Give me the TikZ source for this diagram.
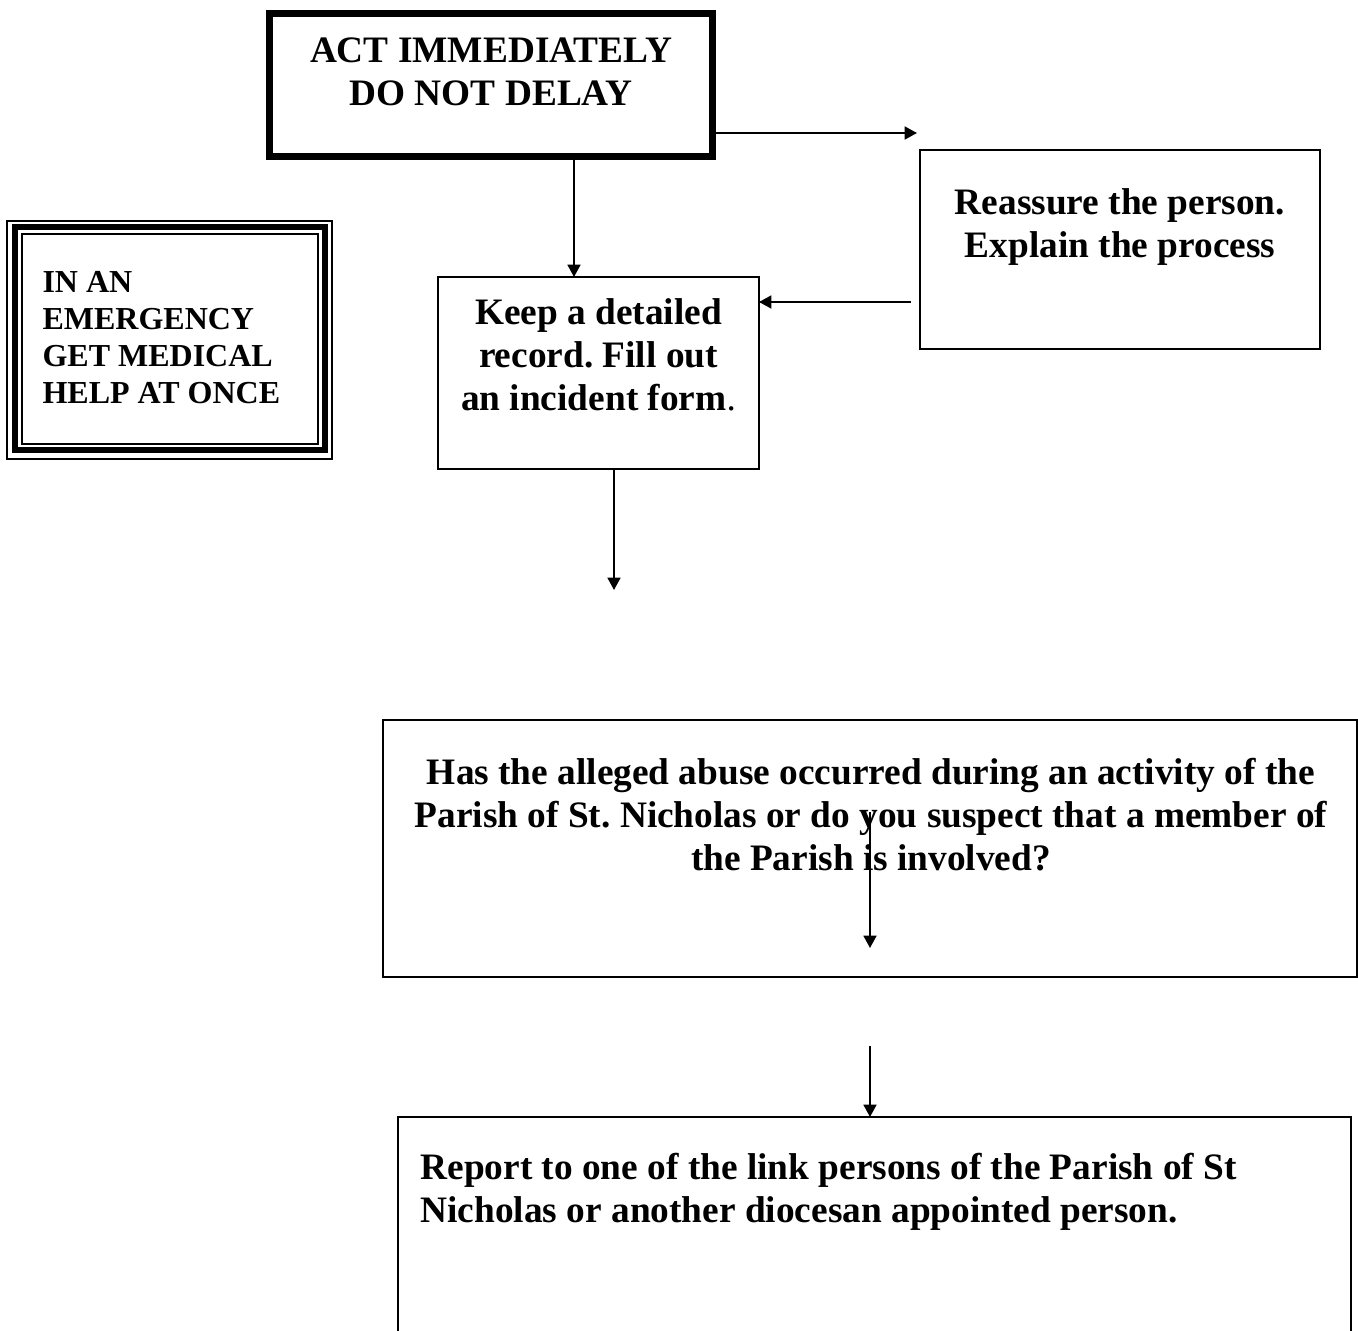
\documentclass[tikz,border=0pt]{standalone}
\usepackage{fontspec}
\setmainfont{Liberation Serif}
\usetikzlibrary{arrows.meta,positioning,calc}
\frenchspacing

\tikzset{
  flowbox/.style={draw,rectangle,inner sep=0pt,outer sep=0pt,line width=0.75pt},
  boxtext/.style={inner sep=0pt,font=\bfseries\fontsize{14}{16.1}\selectfont,align=center},
  link/.style={-{Triangle[length=4.6pt,width=4.8pt]},line width=0.75pt},
}

\begin{document}
\begin{tikzpicture}[x=0.375pt,y=-0.375pt]
\useasboundingbox (0,0) rectangle (1358,1331);
% boxes
\node[flowbox,line width=2.625pt,minimum width=166.125pt,minimum height=53.81pt] (act) at (491,85.25) {};
\node[flowbox,minimum width=150pt,minimum height=74.625pt] (reassure) at (1120,249.5) {};
\node[flowbox,minimum width=120.375pt,minimum height=72pt] (keep) at (598.5,373) {};
\node[flowbox,line width=2.25pt,minimum width=116.25pt,minimum height=83.44pt] (emerg) at (170,338.75) {};
\draw[line width=0.56pt] ($(emerg.north west)+(-8,-6.5)$) rectangle ($(emerg.south east)+(7,9)$);
\draw[line width=0.56pt] ($(emerg.north west)+(7,6.5)$) rectangle ($(emerg.south east)+(-7,-6)$);
\node[flowbox,minimum width=365.25pt,minimum height=96.375pt] (question) at (870,848.5) {};
\node[flowbox,minimum width=357.375pt,minimum height=106.125pt] (report) at (874.5,1258.5) {};
% texts
\node[boxtext,anchor=north] (acttext) at (491,37) {ACT IMMEDIATELY\\DO NOT DELAY};
\node[boxtext,anchor=north] (reassuretext) at (1120,188) {Reassure the person.\\Explain the process};
\node[boxtext,anchor=north] (keeptext) at (598.5,298) {Keep a detailed\\record. Fill out\\an incident form{\mdseries.}};
\node[boxtext,anchor=north west,align=left,font=\bfseries\fontsize{12}{13.9}\selectfont] (emergtext) at (42,271) {IN AN\\EMERGENCY\\GET MEDICAL\\HELP AT ONCE};
\node[boxtext,anchor=north] (questiontext) at (871,758) {Has the alleged abuse occurred during an activity of the\\Parish of St. Nicholas or do you suspect that a member of\\the Parish is involved?};
\node[boxtext,anchor=north west,align=left] (reporttext) at (420,1153) {Report to one of the link persons of the Parish of St\\Nicholas or another diocesan appointed person.};
% free ends
\coordinate (reassurein) at (917,133);
\coordinate (reassureout) at (911,302);
\coordinate (keepin) at (574,277);
\coordinate (keepout) at (614,590);
\coordinate (qtop) at (870,812);
\coordinate (qbot) at (870,948);
\coordinate (reportin) at (870,1046);
% connectors
\draw[link] (act.east |- reassurein) -- (reassurein);
\draw[link] (act.south -| keepin) -- (keepin);
\draw[link] (reassureout) -- (reassureout -| keep.east);
\draw[link] (keep.south -| keepout) -- (keepout);
\draw[link] (qtop) -- (qbot);
\draw[link] (reportin) -- (reportin |- report.north);
\end{tikzpicture}
\end{document}
